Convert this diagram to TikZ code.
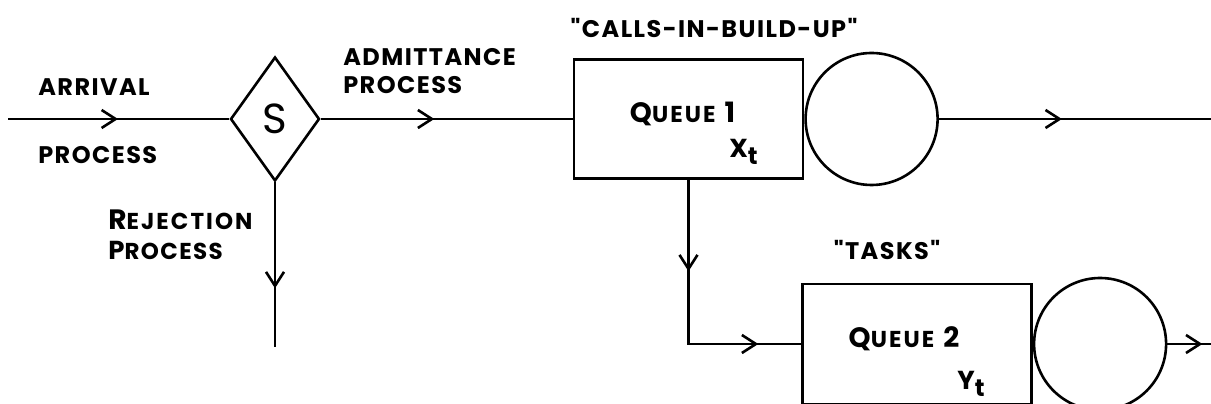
\documentclass[tikz,border=0pt]{standalone}
\usepackage{fontspec}
\setmainfont{Poppins}
\usepackage{tikz}
\usetikzlibrary{positioning,arrows.meta,shapes.geometric,decorations.markings}
\newfontfamily\handfont{Poppins}[LetterSpace=6]
\newcommand\bigsmall[2]{{\fontsize{28}{30}\selectfont #1}{\fontsize{23}{26}\selectfont\addfontfeature{LetterSpace=9}#2}}
\newcommand\lowsub[1]{\raisebox{-.3em}{\fontsize{24}{26}\selectfont #1}}

\begin{document}
\begin{tikzpicture}[x=1pt,y=1pt,line width=2.6pt,
  every node/.style={font=\handfont\bfseries\fontsize{24}{28}\selectfont,inner sep=0pt},
  >={Straight Barb[length=14pt,width=18pt]},
  box/.style={draw,minimum width=229pt,minimum height=119pt},
  server/.style={draw,circle,minimum size=132pt},
  flow/.style={postaction={decorate},decoration={markings,mark=at position #1 with {\arrow{>}}}},
  flowtwo/.style 2 args={postaction={decorate},decoration={markings,mark=at position #1 with {\arrow{>}},mark=at position #2 with {\arrow{>}}}}]
    \useasboundingbox (0,0) rectangle (1211,404);
    \coordinate (in) at (8,285);
    \node[diamond,draw,minimum width=89pt,minimum height=124pt,font=\fontsize{42}{44}\selectfont] (sel) at (275,285) {S};
    \node[box] (q1) at (688.5,285) {};
    \node[server,right=0pt of q1] (sv1) {};
    \coordinate (out1) at (1211,285);
    \node[box,minimum height=120pt] (q2) at (917,60) {};
    \node[server,right=0pt of q2] (sv2) {};
    \coordinate (out2) at (1211,60);
    \coordinate (rej) at (275,57);
    \node[anchor=west] (arr) at (37,317) {ARRIVAL};
    \node[anchor=west] (arrp) at (37,249) {PROCESS};
    \node[anchor=west] (adm) at (342,347) {ADMITTANCE};
    \node[anchor=west] (admp) at (342,319) {PROCESS};
    \node[anchor=west] (rejl) at (107,184) {\bigsmall{R}{EJECTION}};
    \node[anchor=west] (rejp) at (107,154) {{\fontsize{26}{28}\selectfont P}{\fontsize{23}{26}\selectfont ROCESS}};
    \node (cbu) at (714,376) {"CALLS-IN-BUILD-UP"};
    \node (tasks) at (887,154) {"TASKS"};
    \node (q1lab) at ([xshift=-6pt,yshift=5pt]q1.center) {\bigsmall{Q}{UEUE}\hspace{9pt}{\fontsize{28}{30}\selectfont 1}};
    \node (q1x) at ([xshift=55pt,yshift=-33pt]q1.center) {{\fontsize{26}{28}\selectfont X}\lowsub{t}};
    \node (q2lab) at ([xshift=-13pt,yshift=5pt]q2.center) {\bigsmall{Q}{UEUE}\hspace{9pt}{\fontsize{28}{30}\selectfont 2}};
    \node (q2y) at ([xshift=54pt,yshift=-40pt]q2.center) {{\fontsize{26}{28}\selectfont Y}\lowsub{t}};
    \draw[flow=110pt] (in) -- (sel);
    \draw[flow=113.5pt] (sel) -- (q1);
    \draw[flow=123pt] (sv1) -- (out1);
    \draw[flow=106pt] (sel) -- (rej);
    \draw[flowtwo={91.5pt}{234pt}] (q1) |- (q2);
    \draw[flow=35pt] (sv2) -- (out2);
  \end{tikzpicture}
\end{document}
